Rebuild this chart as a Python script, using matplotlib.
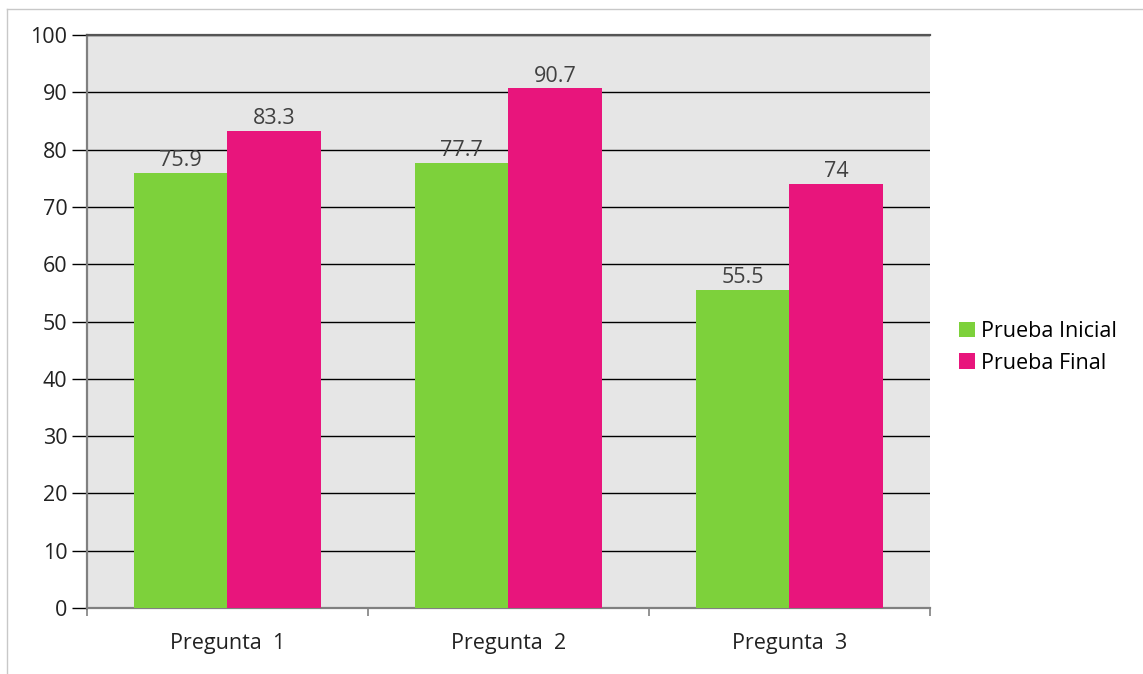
import numpy as np
import matplotlib.pyplot as plt
from matplotlib.lines import Line2D

# data
categories = ['Pregunta  1', 'Pregunta  2', 'Pregunta  3']
prueba_inicial = [75.9, 77.7, 55.5]
prueba_final = [83.3, 90.7, 74]
value_labels_ini = ['75.9', '77.7', '55.5']
value_labels_fin = ['83.3', '90.7', '74']
yticks = [0, 10, 20, 30, 40, 50, 60, 70, 80, 90, 100]

plt.rcParams['font.family'] = ['Open Sans', 'DejaVu Sans']
fs = 15.5

fig = plt.figure(figsize=(11.43, 6.74), dpi=100)
ax = fig.add_axes([0.0761, 0.0979, 0.7375, 0.850])
ax.set_facecolor('#e6e6e6')

x = np.arange(len(categories))
w = 1 / 3
b1 = ax.bar(x - w / 2, prueba_inicial, w, color='#7dd13b', label='Prueba Inicial', zorder=3)
b2 = ax.bar(x + w / 2, prueba_final, w, color='#e8157c', label='Prueba Final', zorder=3)

for bars, labs in ((b1, value_labels_ini), (b2, value_labels_fin)):
    for rect, lab in zip(bars, labs):
        ax.text(rect.get_x() + rect.get_width() / 2, rect.get_height() + 0.3, lab,
                ha='center', va='bottom', fontsize=fs, color='#404040', zorder=4)

ax.set_xlim(-0.5, 2.5)
ax.set_ylim(0, 100)
ax.set_yticks(yticks)
ax.set_yticklabels([str(t) for t in yticks], fontsize=fs, color='#222222')
ax.yaxis.grid(True, color='black', linewidth=1, zorder=1)
ax.tick_params(axis='y', length=11, width=1, color='black', pad=3)

ax.set_xticks([-0.5, 0.5, 1.5, 2.5])
ax.set_xticklabels([])
ax.set_xticks(x, minor=True)
ax.set_xticklabels(categories, minor=True, fontsize=fs, color='#222222')
ax.tick_params(axis='x', which='major', length=6, width=1.2, color='#808080', direction='out')
ax.tick_params(axis='x', which='minor', length=0, pad=18)

ax.spines['right'].set_visible(False)
ax.spines['top'].set_color('#555555')
ax.spines['top'].set_linewidth(1.6)
ax.spines['left'].set_color('#808080')
ax.spines['left'].set_linewidth(1.6)
ax.spines['bottom'].set_color('#808080')
ax.spines['bottom'].set_linewidth(1.6)

leg = ax.legend(loc='center left', bbox_to_anchor=(1.024, 0.455), frameon=False,
                fontsize=fs, handlelength=0.75, handleheight=0.75,
                handletextpad=0.3, labelspacing=0.5, borderaxespad=0)

# faint border at top and left of the picture
fig.add_artist(Line2D([0.006, 1.0], [0.987, 0.987], color='#c8c8c8', linewidth=1))
fig.add_artist(Line2D([0.006, 0.006], [0.0, 0.987], color='#c8c8c8', linewidth=1))

fig.savefig('out.png', dpi=100)
